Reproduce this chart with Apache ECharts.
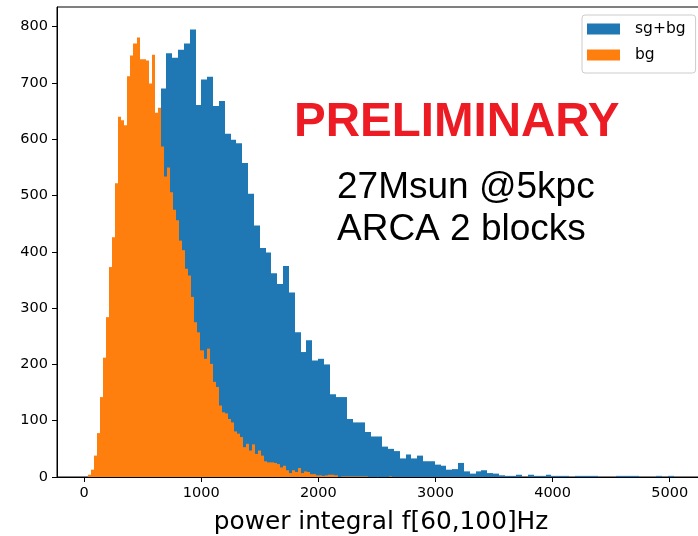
<!DOCTYPE html>
<html>
<head>
<meta charset="utf-8">
<script src="https://cdn.jsdelivr.net/npm/echarts@6/dist/echarts.min.js"></script>
<style>
  html, body { margin: 0; padding: 0; background: #ffffff; }
  #chart { width: 698px; height: 536px; }
</style>
</head>
<body>
<div id="chart"></div>
<script>
// Series names (legend order)
const seriesNames = ['sg+bg', 'bg'];

// Counts per bin, signal + background sample
const sgbgCounts = [
  1, 10, 45, 110, 190, 270, 340, 420, 490, 545,
  600, 625, 690, 753, 745, 759, 770, 795, 661, 706,
  711, 659, 668, 610, 599, 593, 558, 503, 447, 407,
  399, 362, 343, 375, 328, 257, 222, 243, 207, 210,
  200, 147, 142, 142, 103, 97, 97, 80, 72, 72,
  54, 50, 46, 33, 40, 33, 38, 28, 28, 22,
  20, 13, 14, 25, 10, 6, 10, 12, 7, 6,
  3, 2, 2, 4, 0, 4, 2, 2, 4, 2,
  2, 2, 0, 2, 2, 2, 2, 0, 0, 0,
  2, 2, 2, 2, 0, 0, 0, 2, 0, 2
];

// Counts per bin, background-only sample
const bgCounts = [
  4, 13, 38, 78, 142, 212, 284, 373, 426, 522,
  640, 634, 625, 712, 749, 770, 781, 742, 742, 740,
  699, 750, 647, 656, 587, 534, 550, 506, 475, 456,
  420, 403, 370, 358, 320, 275, 257, 225, 210, 228,
  201, 169, 160, 127, 115, 113, 103, 97, 81, 77,
  71, 53, 59, 47, 58, 41, 47, 38, 28, 26,
  26, 25, 23, 17, 20, 12, 7, 12, 9, 16,
  7, 10, 9, 5, 5, 3, 3, 2, 3, 4,
  4, 3, 0, 1, 1, 1, 1, 1, 1, 1,
  1, 1, 0, 0, 0, 0, 0, 0, 0, 1
];

// Binning of each histogram: lower edge of the first bin and bin width
const sgbgBinStart = 56;
const sgbgBinWidth = 49.8;
const bgBinStart = 32;
const bgBinWidth = 26;

// Tick values
const xTicks = [0, 1000, 2000, 3000, 4000, 5000];
const yTicks = [0, 100, 200, 300, 400, 500, 600, 700, 800];

// Annotation lines
const stampText = 'PRELIMINARY';
const infoLines = ['27Msun @5kpc', 'ARCA 2 blocks'];

const xLabel = 'power integral f[60,100]Hz';

// [lower edge, upper edge, count] per bin
function toBins(start, width, counts) {
  return counts.map(function (c, i) {
    return [start + i * width, start + (i + 1) * width, c];
  });
}

function renderBin(params, api) {
  const top = api.coord([api.value(0), api.value(2)]);
  const base = api.coord([api.value(1), 0]);
  const x0 = Math.round(top[0]);
  const x1 = Math.round(base[0]);
  return {
    type: 'rect',
    shape: { x: x0, y: top[1], width: x1 - x0, height: base[1] - top[1] },
    style: { fill: api.visual('color') }
  };
}

const plainNumber = function (v) { return String(v); };
const tickFont = { fontFamily: 'DejaVu Sans', fontSize: 14.5, color: '#000000' };

const chart = echarts.init(document.getElementById('chart'), null, { renderer: 'canvas' });

chart.setOption({
  animation: false,
  backgroundColor: '#ffffff',
  grid: {
    left: 57, top: 7, width: 648, height: 470,
    show: true, borderColor: '#000000', borderWidth: 1,
    containLabel: false, outerBoundsMode: 'none'
  },
  legend: {
    data: seriesNames,
    orient: 'vertical',
    left: 582, top: 15,
    icon: 'rect',
    itemWidth: 33, itemHeight: 11, itemGap: 10,
    padding: [6, 10, 10, 5],
    backgroundColor: 'rgba(255,255,255,0.8)',
    borderColor: '#cccccc', borderWidth: 1, borderRadius: 3,
    textStyle: { fontFamily: 'DejaVu Sans', fontSize: 15.5, color: '#000000', padding: [0, 0, 0, 10] }
  },
  xAxis: {
    type: 'value',
    min: -231, max: 5301,
    name: xLabel,
    nameLocation: 'middle',
    nameGap: 33,
    nameTextStyle: { fontFamily: 'DejaVu Sans', fontSize: 24.8, color: '#000000' },
    axisLine: { show: true, onZero: false, lineStyle: { color: '#000000', width: 1 } },
    axisTick: { show: true, length: 5, customValues: xTicks, lineStyle: { color: '#000000' } },
    axisLabel: Object.assign({ margin: 9, customValues: xTicks, formatter: plainNumber }, tickFont),
    splitLine: { show: false }
  },
  yAxis: {
    type: 'value',
    min: 0, max: 835,
    axisLine: { show: true, onZero: false, lineStyle: { color: '#000000', width: 1 } },
    axisTick: { show: true, length: 5, customValues: yTicks, lineStyle: { color: '#000000' } },
    axisLabel: Object.assign({ margin: 9, customValues: yTicks, formatter: plainNumber }, tickFont),
    splitLine: { show: false }
  },
  series: [
    {
      name: seriesNames[0],
      type: 'custom',
      renderItem: renderBin,
      clip: true,
      itemStyle: { color: '#1f77b4' },
      encode: { x: [0, 1], y: 2 },
      data: toBins(sgbgBinStart, sgbgBinWidth, sgbgCounts)
    },
    {
      name: seriesNames[1],
      type: 'custom',
      renderItem: renderBin,
      clip: true,
      itemStyle: { color: '#ff7f0e' },
      encode: { x: [0, 1], y: 2 },
      data: toBins(bgBinStart, bgBinWidth, bgCounts)
    }
  ],
  graphic: [
    {
      type: 'text', x: 294, y: 123, z: 100,
      style: {
        text: stampText, fill: '#ed1c24',
        font: 'bold 47.5px "Liberation Sans"',
        textAlign: 'left', textVerticalAlign: 'middle'
      }
    },
    {
      type: 'text', x: 337, y: 188, z: 100,
      style: {
        text: infoLines[0], fill: '#000000',
        font: '37px "Liberation Sans"',
        textAlign: 'left', textVerticalAlign: 'middle'
      }
    },
    {
      type: 'text', x: 337, y: 230, z: 100,
      style: {
        text: infoLines[1], fill: '#000000',
        font: '37px "Liberation Sans"',
        textAlign: 'left', textVerticalAlign: 'middle'
      }
    }
  ]
});
</script>
</body>
</html>
